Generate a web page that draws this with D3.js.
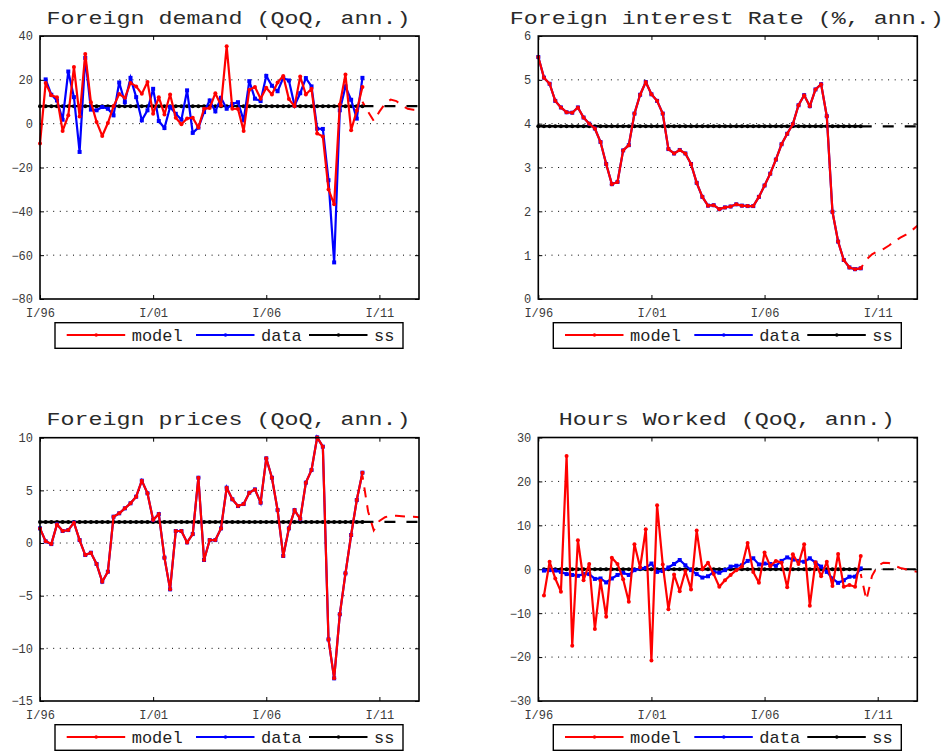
<!DOCTYPE html>
<html>
<head>
<meta charset="utf-8">
<script src="https://cdn.jsdelivr.net/npm/d3@7"></script>
<style>
  body { margin: 0; background: #fff; }
  svg { display: block; }
</style>
</head>
<body>
<svg id="chart" width="946" height="751"></svg>
<script>
// Quarterly series, index 0 = 1996Q1. Model/data run to index 57, forecasts cover 57..67.
const xTickValues = [0, 20, 40, 60];
const xTickLabels = ["I/96", "I/01", "I/06", "I/11"];
const lastQuarter = 67;
const forecastStart = 57;

// Foreign demand (QoQ, ann.)
const demandModel = [-9, 18.5, 13, 12, -3.3, 3.8, 25.8, 3.3, 31.8, 9.8, 0.8, -5.6, 0.3, 7.9, 13.5, 11.8, 18.6, 17, 13.6, 19,
  4.5, 12.1, 4.2, 13.3, 2.7, -0.3, 2.4, 2.7, -1.8, 6.8, 7.1, 13.9, 8.3, 35.3, 6.8, 6.7, -3.3, 15.5, 16.7, 11.4,
  16.4, 13.3, 18.8, 21.8, 11.2, 7.9, 21.5, 13.3, 15.9, -4.5, -5.8, -30, -36.8, 8.8, 22.4, -3, 6, 16.7];
const demandData = [null, 20.2, 13.2, 10.6, 1.8, 23.8, 12.1, -12.9, 30, 6.4, 6.1, 7.6, 6.8, 3.8, 18.8, 9.8, 20.9, 12.1, 1.5, 6.1,
  15.9, 1.2, -2, 7.6, 4.5, 1.8, 15.2, -4.2, -1.8, 5.3, 10.6, 5.6, 11.8, 6.8, 9, 9.8, 1.5, 19.4, 11.4, 10.3,
  21.8, 17.3, 14.8, 20.9, 19.7, 8.3, 13.9, 20.8, 17, -2.3, -2.4, -25.8, -63.3, 6.1, 17, 10.9, 2.3, 20.9];
const demandForecast = [10, 5.5, 1.3, 5.5, 9.1, 11, 10.3, 8.2, 6.8, 6.4, 6.4];
const demandSS = 8;
const demandTicks = [-80, -60, -40, -20, 0, 20, 40];

// Foreign interest rate (%, ann.)
const rateModel = [5.52, 5.05, 4.91, 4.52, 4.37, 4.26, 4.25, 4.37, 4.14, 4.0, 3.89, 3.58, 3.08, 2.62, 2.67, 3.39, 3.51, 4.23, 4.66, 4.95,
  4.67, 4.52, 4.23, 3.42, 3.32, 3.40, 3.32, 3.08, 2.65, 2.33, 2.13, 2.14, 2.05, 2.09, 2.11, 2.16, 2.13, 2.12, 2.12, 2.33,
  2.59, 2.86, 3.18, 3.53, 3.77, 3.99, 4.42, 4.65, 4.40, 4.78, 4.90, 4.17, 1.99, 1.31, 0.89, 0.72, 0.68, 0.70];
const rateData = rateModel.slice();
const rateForecast = [0.7, 0.9, 1.02, 1.09, 1.14, 1.22, 1.32, 1.4, 1.47, 1.56, 1.67];
const rateSS = 3.94;
const rateTicks = [0, 1, 2, 3, 4, 5, 6];

// Foreign prices (QoQ, ann.)
const pricesModel = [1.39, 0.16, -0.1, 1.77, 1.14, 1.23, 1.93, 0.28, -1.14, -0.92, -1.99, -3.67, -2.72,
  2.5, 2.82, 3.29, 3.77, 4.4, 5.92, 4.72, 2.18, 2.75, -1.39, -4.4, 1.14, 1.14, 0.06, 0.85, 6.2, -1.61, 0.28, 0.28, 1.39, 5.25,
  4.15, 3.51, 3.7, 4.78, 5.09, 3.83, 8.04, 6.2, 3.13, -1.23, 1.39, 3.13, 2.28, 5.73, 6.93, 10.03, 9.15, -9.15, -12.85, -6.77,
  -2.88, 0.76, 4.08, 6.68];
const pricesData = pricesModel.slice();
const pricesForecast = [6.4, 3.0, 1.2, 2.1, 2.45, 2.6, 2.6, 2.55, 2.5, 2.5, 2.45];
const pricesSS = 2;
const pricesTicks = [-15, -10, -5, 0, 5, 10];

// Hours worked (QoQ, ann.)
const hoursModel = [null, -6.0, 1.7, -2.1, -5.1, 25.8, -17.4, 6.6, -2.5, 1.2, -13.6, -2.6, -10.8, 2.6, 1.2, -2.3, -7.4, 5.7, 0.4, 9.1,
  -20.8, 14.6, 1.1, -9.1, -1.2, -5.0, -0.4, -4.6, 8.8, 0, 1.5, -1.1, -4.0, -2.5, -1.3, -0.2, 0.6, 6.0, -0.6, -3.1,
  3.8, 0.7, 1.9, 1.5, -4.1, 3.4, 1.2, 5.7, -8.3, 1.6, -1.6, 1.7, -3.8, 3.5, -4.0, -3.6, -4.0, 3.0];
const hoursData = [null, -0.3, -0.2, -0.3, -0.6, -1.1, -1.3, -1.5, -1.1, -1.1, -2.2, -2.1, -3.0, -2.1, -1.3, -0.8, -1.3, -0.2, 0.2, 0.3,
  1.3, -0.6, -0.4, 0.4, 1.2, 2.1, 0.9, -0.2, -1.1, -1.9, -1.6, -0.6, -0.8, -0.2, 0.6, 0.8, 0.9, 1.9, 2.5, 1.1,
  1.3, 1.2, 0.8, 1.9, 2.7, 2.2, 1.9, 1.7, 2.5, 1.5, 0.6, -0.6, -2.1, -3.1, -2.5, -1.7, -1.7, 0.2];
const hoursForecast = [-1.1, -7, -1.5, 0.8, 1.5, 1.4, 0.8, 0.3, 0, -0.3, -0.6];
const hoursSS = 0;
const hoursTicks = [-30, -20, -10, 0, 10, 20, 30];

const legendLabels = ["model", "data", "ss"];
const colors = { model: "#ff0000", data: "#0000ff", ss: "#000000" };

const panels = [
  { title: "Foreign demand (QoQ, ann.)", model: demandModel, data: demandData, forecast: demandForecast,
    ss: demandSS, ssFrom: 0, domain: [-80, 40], ticks: demandTicks, box: [40, 36, 419, 299] },
  { title: "Foreign interest Rate (%, ann.)", model: rateModel, data: rateData, forecast: rateForecast,
    ss: rateSS, ssFrom: 0, domain: [0, 6], ticks: rateTicks, box: [538.3, 36, 917.3, 299] },
  { title: "Foreign prices (QoQ, ann.)", model: pricesModel, data: pricesData, forecast: pricesForecast,
    ss: pricesSS, ssFrom: 0, domain: [-15, 10], ticks: pricesTicks, box: [40, 437.7, 419, 701] },
  { title: "Hours Worked (QoQ, ann.)", model: hoursModel, data: hoursData, forecast: hoursForecast,
    ss: hoursSS, ssFrom: 1, domain: [-30, 30], ticks: hoursTicks, box: [538.3, 437.5, 917.3, 701] }
];

const FONT = "'Liberation Mono', 'DejaVu Sans Mono', monospace";
const svg = d3.select("#chart");

panels.forEach(p => {
  const [x0, y0, x1, y1] = p.box;
  const x = d3.scaleLinear().domain([0, lastQuarter]).range([x0, x1]);
  const y = d3.scaleLinear().domain(p.domain).range([y1, y0]);
  const g = svg.append("g");

  // dotted horizontal grid
  g.append("g").selectAll("line")
    .data(p.ticks.filter(t => t !== p.domain[0] && t !== p.domain[1]))
    .join("line")
    .attr("x1", x0).attr("x2", x1)
    .attr("y1", d => y(d)).attr("y2", d => y(d))
    .attr("stroke", "#000").attr("stroke-width", 1)
    .attr("stroke-dasharray", "1,5.6");

  // axes with inward ticks
  const fmt = d3.format("d");
  const left = g.append("g").attr("transform", `translate(${x0},0)`)
    .call(d3.axisLeft(y).tickValues(p.ticks).tickFormat(fmt).tickSizeInner(-4).tickSizeOuter(0).tickPadding(7));
  const right = g.append("g").attr("transform", `translate(${x1},0)`)
    .call(d3.axisRight(y).tickValues(p.ticks).tickFormat("").tickSizeInner(-4).tickSizeOuter(0));
  const bottom = g.append("g").attr("transform", `translate(0,${y1})`)
    .call(d3.axisBottom(x).tickValues(xTickValues).tickFormat((d, i) => xTickLabels[i])
      .tickSizeInner(-4).tickSizeOuter(0).tickPadding(9));
  const top = g.append("g").attr("transform", `translate(0,${y0})`)
    .call(d3.axisTop(x).tickValues(xTickValues).tickFormat("").tickSizeInner(-4).tickSizeOuter(0));
  [left, right, bottom, top].forEach(a => {
    a.select(".domain").remove();
    a.selectAll("line").attr("stroke", "#000").attr("stroke-width", 1);
    a.selectAll("text").attr("font-family", FONT).attr("font-size", 12).attr("fill", "#3a3a3a");
  });

  const line = d3.line().defined(d => d.v != null).x(d => x(d.i)).y(d => y(d.v));
  const toPts = (arr, start) => arr.map((v, k) => ({ i: start + k, v }));

  // steady state: solid with markers over the sample, dashed afterwards
  const ssPts = d3.range(p.ssFrom, forecastStart + 1).map(i => ({ i, v: p.ss }));
  g.append("path").datum(ssPts).attr("d", line)
    .attr("fill", "none").attr("stroke", colors.ss).attr("stroke-width", 2.4);
  g.append("g").selectAll("circle").data(ssPts).join("circle")
    .attr("cx", d => x(d.i)).attr("cy", d => y(d.v)).attr("r", 2).attr("fill", colors.ss);
  g.append("path").datum(d3.range(forecastStart, lastQuarter + 1).map(i => ({ i, v: p.ss })))
    .attr("d", line).attr("fill", "none").attr("stroke", colors.ss)
    .attr("stroke-width", 2.2).attr("stroke-dasharray", "11,11");

  // data
  const dataPts = toPts(p.data, 0);
  g.append("path").datum(dataPts).attr("d", line)
    .attr("fill", "none").attr("stroke", colors.data).attr("stroke-width", 2.2);
  g.append("g").selectAll("rect").data(dataPts.filter(d => d.v != null)).join("rect")
    .attr("x", d => x(d.i) - 2).attr("y", d => y(d.v) - 2).attr("width", 4).attr("height", 4)
    .attr("fill", colors.data);

  // model
  const modelPts = toPts(p.model, 0);
  g.append("path").datum(modelPts).attr("d", line)
    .attr("fill", "none").attr("stroke", colors.model).attr("stroke-width", 2.2).attr("stroke-linejoin", "round");
  g.append("g").selectAll("circle").data(modelPts.filter(d => d.v != null)).join("circle")
    .attr("cx", d => x(d.i)).attr("cy", d => y(d.v)).attr("r", 2).attr("fill", colors.model);

  // model forecast
  g.append("path").datum(toPts(p.forecast, forecastStart)).attr("d", line)
    .attr("fill", "none").attr("stroke", colors.model).attr("stroke-width", 2)
    .attr("stroke-dasharray", "10,8").attr("stroke-dashoffset", 6);

  // frame
  g.append("rect").attr("x", x0).attr("y", y0).attr("width", x1 - x0).attr("height", y1 - y0)
    .attr("fill", "none").attr("stroke", "#000").attr("stroke-width", 1.6);

  // title
  g.append("text").attr("x", (x0 + x1) / 2 - 1).attr("y", y0 - 12.5)
    .attr("text-anchor", "middle").attr("font-family", FONT).attr("font-size", 19)
    .attr("textLength", p.title.length * 14).attr("lengthAdjust", "spacingAndGlyphs")
    .attr("fill", "#2a2a2a").text(p.title);

  // legend
  const lx = x0 + 15, ly = y1 + 23.7;
  const lg = g.append("g").attr("transform", `translate(${lx},${ly})`);
  lg.append("rect").attr("width", 348).attr("height", 25.6)
    .attr("fill", "#fff").attr("stroke", "#000").attr("stroke-width", 1.4);
  const items = [
    { key: "model", x: 11.7, tx: 76.7 },
    { key: "data", x: 141, tx: 206 },
    { key: "ss", x: 254, tx: 319 }
  ];
  items.forEach((it, k) => {
    lg.append("line").attr("x1", it.x).attr("x2", it.x + 58.5).attr("y1", 12.3).attr("y2", 12.3)
      .attr("stroke", colors[it.key]).attr("stroke-width", 1.8);
    lg.append("circle").attr("cx", it.x + 29.5).attr("cy", 12.3).attr("r", 1.8).attr("fill", colors[it.key]);
    lg.append("text").attr("x", it.tx).attr("y", 18.5).attr("font-family", FONT).attr("font-size", 17)
      .attr("fill", "#222").text(legendLabels[k]);
  });
});
</script>
</body>
</html>
